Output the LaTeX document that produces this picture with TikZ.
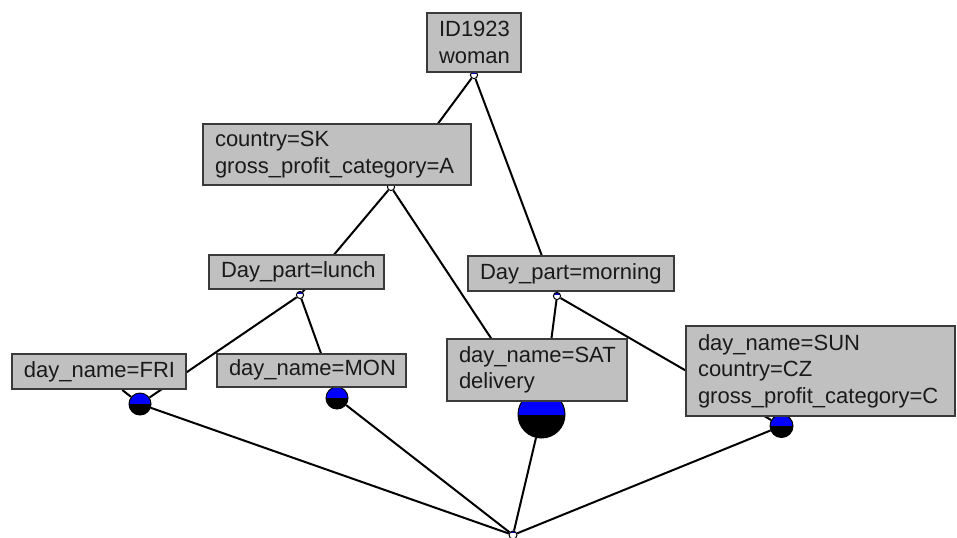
\documentclass[tikz,border=0pt]{standalone}
\usepackage{fontspec}
\setmainfont{Liberation Sans}
\usepackage{tikz}
\usetikzlibrary{backgrounds}
\definecolor{boxfill}{HTML}{C0C0C0}
\definecolor{boxline}{HTML}{3A3A3A}
\definecolor{txt}{HTML}{1A1A1A}
\definecolor{halfblue}{HTML}{0000FF}

\begin{document}
\begin{tikzpicture}[
  x=0.5pt, y=-0.5pt,
  font=\fontsize{11}{13.2}\selectfont,
  box/.style={draw=boxline, fill=boxfill, line width=1pt, align=left, text=txt, inner xsep=6pt, inner ysep=1pt},
  ball/.style={circle, draw=black, fill=black, line width=0.5pt, inner sep=0pt,
    path picture={\fill[halfblue] (path picture bounding box.north west) rectangle (path picture bounding box.east);}},
  dot/.style={circle, draw=black, fill=white, line width=0.5pt, inner sep=0pt, minimum size=3.6pt,
    path picture={\fill[halfblue!80!black] (path picture bounding box.north west) rectangle ([yshift=-1.1pt]path picture bounding box.north east);}},
  edge/.style={line width=1pt, draw=black}
]
  \useasboundingbox (0,0) rectangle (957,537);

  % concept points
  \node[dot] (idp)   at (474,75)  {};
  \node[dot] (cntp)  at (391,187) {};
  \node[dot] (lunp)  at (300,295) {};
  \node[dot] (morp)  at (557,296) {};
  \node[ball, minimum size=11pt] (frip) at (140,404) {};
  \node[ball, minimum size=11pt] (monp) at (337,398) {};
  \node[ball, minimum size=23.5pt] (satp) at (541.5,414.5) {};
  \node[ball, minimum size=11.5pt] (sunp) at (781.5,426) {};
  \node[dot, minimum size=4pt] (bot) at (513,535) {};

  % labels
  \node[box, text width=35pt, minimum height=29.5pt]  (id)  at (474,42.5)  {ID1923\\woman};
  \node[box, text width=122pt, minimum height=30.5pt] (cnt) at (337,154.5) {country=SK\\gross\_profit\_category=A};
  \node[box, text width=75.5pt, minimum height=17pt]  (lun) at (296.5,272) {Day\_part=lunch};
  \node[box, text width=91pt, minimum height=17.5pt]  (mor) at (571,273.5) {Day\_part=morning};
  \node[box, text width=75pt, minimum height=17.5pt]  (fri) at (99,371.5)  {day\_name=FRI};
  \node[box, text width=82.5pt, minimum height=16.5pt] (mon) at (311.5,370) {day\_name=MON};
  \node[box, text width=78pt, minimum height=31pt]    (sat) at (537,370)   {day\_name=SAT\\delivery};
  \node[box, text width=122.5pt, minimum height=45pt] (sun) at (820.5,371) {day\_name=SUN\\country=CZ\\gross\_profit\_category=C};

  \begin{scope}[on background layer]
    \draw[edge] (idp) -- (cntp);
    \draw[edge] (idp) -- (morp);
    \draw[edge] (cntp) -- (lunp);
    \draw[edge] (cntp) -- (satp);
    \draw[edge] (lunp) -- (frip);
    \draw[edge] (lunp) -- (monp);
    \draw[edge] (morp) -- (satp);
    \draw[edge] (morp) -- (sunp);
    \draw[edge] (frip) -- (fri);
    \draw[edge] (bot) -- (frip);
    \draw[edge] (bot) -- (monp);
    \draw[edge] (bot) -- (satp);
    \draw[edge] (bot) -- (sunp);
  \end{scope}
\end{tikzpicture}
\end{document}
